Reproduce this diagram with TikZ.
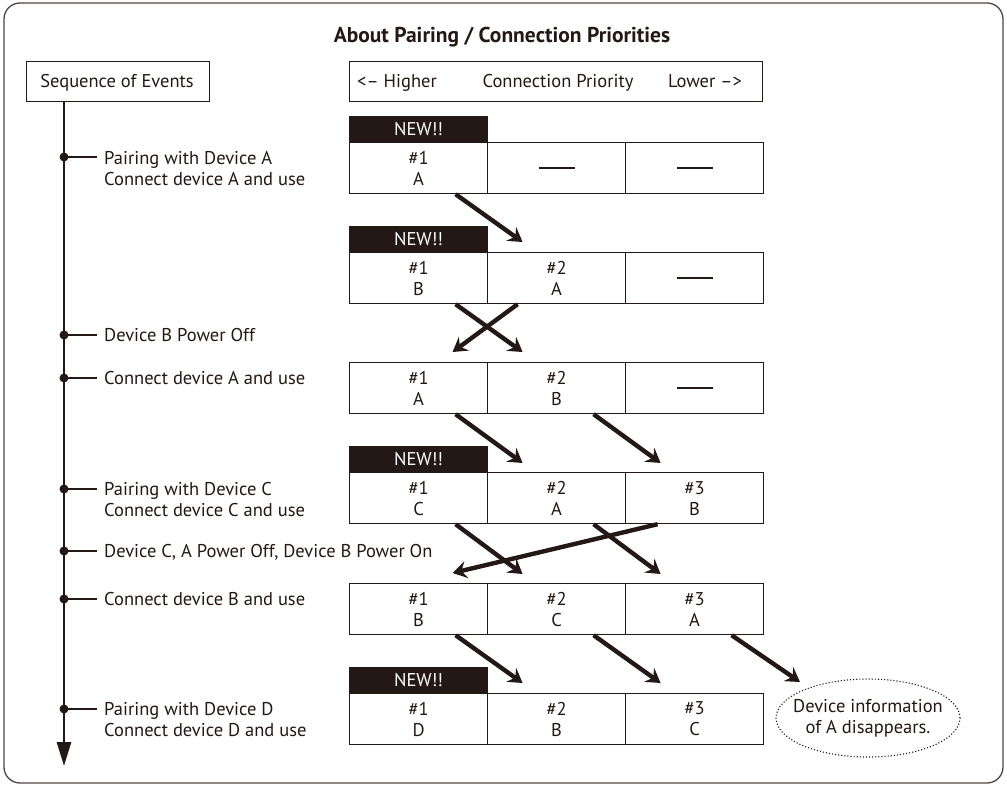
\documentclass[tikz,border=0pt]{standalone}
\usepackage{fontspec}
\setmainfont{PT Sans}
\usetikzlibrary{arrows.meta,calc,shapes.geometric}
\definecolor{ink}{HTML}{231815}
\newcommand{\bodyfont}{\fontsize{18.5}{21}\selectfont}
\begin{document}
\begin{tikzpicture}[x=1pt,y=-1pt,
  txt/.style={font=\bodyfont, text=ink, inner sep=0pt},
  cell/.style={draw=ink, line width=1.2pt, anchor=north west, minimum width=138pt,
     minimum height=51pt, inner sep=0pt, align=center, font=\bodyfont, text=ink},
  newbox/.style={fill=ink, draw=ink, line width=1.2pt, anchor=south west, minimum width=138pt,
     minimum height=25pt, inner sep=0pt, text=white, font=\bodyfont},
  hdr/.style={draw=ink, line width=1.2pt, anchor=north west, minimum height=40pt, inner sep=0pt},
  mv/.style={line width=4.4pt, draw=ink, -{Stealth[length=14pt,width=17pt,inset=5pt]}},
  tickline/.style={line width=1.1pt, draw=ink},
  evdot/.style={circle, fill=ink, inner sep=0pt, minimum size=9pt},
  dashline/.style={line width=1.3pt, draw=ink}
]
\useasboundingbox (0,0) rectangle (1007,787);
\draw[rounded corners=16pt, line width=1.3pt, draw=ink!80] (4,3) rectangle (1003,783);

% title
\node[txt, font=\fontsize{21.5}{24}\selectfont\bfseries, anchor=base] (title) at (502,42) {About Pairing / Connection Priorities};

% header boxes
\node[hdr, minimum width=183pt] (seq) at (26,61) {};
\node[txt, anchor=base] (seqt) at (117,87) {Sequence of Events};
\node[hdr, minimum width=413pt] (prio) at (349,61) {};
\node[txt, anchor=base] (hi) at (397,87) {<– Higher};
\node[txt, anchor=base] (cp) at (558,87) {Connection Priority};
\node[txt, anchor=base] (lo) at (705,87) {Lower –>};

% timeline
\coordinate (tend) at (64,766);
\draw[line width=2.8pt, draw=ink, -{Triangle[length=24pt,width=14pt]}] (seq.south -| tend) -- (tend);

% events
\foreach \n/\dy/\base/\la/\lb in {
  1/157/164/{Pairing with Device A}/{Connect device A and use},
  2/335/341/{Device B Power Off}/{},
  3/378/384/{Connect device A and use}/{},
  4/489/495/{Pairing with Device C}/{Connect device C and use},
  5/551/557/{Device C, A Power Off, Device B Power On}/{},
  6/599/605/{Connect device B and use}/{},
  7/709/715/{Pairing with Device D}/{Connect device D and use}} {
  \node[evdot] (d\n) at (64,\dy) {};
  \node[txt, anchor=base west] (ea\n) at (104,\base) {\la};
  \node[txt, anchor=base west] (eb\n) at (104,\base+21) {\lb};
  \draw[tickline] (d\n.center) -- (97,\dy);
}

% table rows
% row 1
\node[cell] (r1c1) at (349,142) {\#1\\A};
\node[cell] (r1c2) at (487,142) {};
\node[cell] (r1c3) at (625,142) {};
\node[newbox] (n1) at (r1c1.north west) {NEW!!};
% row 2
\node[cell] (r2c1) at (349,252) {\#1\\B};
\node[cell] (r2c2) at (487,252) {\#2\\A};
\node[cell] (r2c3) at (625,252) {};
\node[newbox] (n2) at (r2c1.north west) {NEW!!};
% row 3
\node[cell] (r3c1) at (349,362) {\#1\\A};
\node[cell] (r3c2) at (487,362) {\#2\\B};
\node[cell] (r3c3) at (625,362) {};
% row 4
\node[cell] (r4c1) at (349,472) {\#1\\C};
\node[cell] (r4c2) at (487,472) {\#2\\A};
\node[cell] (r4c3) at (625,472) {\#3\\B};
\node[newbox] (n4) at (r4c1.north west) {NEW!!};
% row 5
\node[cell] (r5c1) at (349,583) {\#1\\B};
\node[cell] (r5c2) at (487,583) {\#2\\C};
\node[cell] (r5c3) at (625,583) {\#3\\A};
% row 6
\node[cell] (r6c1) at (349,693) {\#1\\D};
\node[cell] (r6c2) at (487,693) {\#2\\B};
\node[cell] (r6c3) at (625,693) {\#3\\C};
\node[newbox] (n6) at (r6c1.north west) {NEW!!};

% empty-cell dashes
\foreach \c in {r1c2,r1c3,r2c3,r3c3} {
  \draw[dashline] ($(\c.center)+(-18,0)$) -- ($(\c.center)+(18,0)$);
}

% ellipse
\node[draw=ink, dotted, line width=1.1pt, ellipse, minimum width=184pt, minimum height=78pt,
  inner sep=0pt] (ell) at (868,718) {};
\node[txt, align=center] (ellt) at (ell.center) {Device information\\of A disappears.};

% moves
\draw[mv] ($(r1c1.south)+(37,0)$) -- ($(r2c2.north)+(-34,-10)$);
\draw[mv] ($(r2c1.south)+(37,0)$) -- ($(r3c2.north)+(-34,-10)$);
\draw[mv] ($(r2c2.south)+(-39,0)$) -- ($(r3c1.north)+(34,-10)$);
\draw[mv] ($(r3c1.south)+(37,0)$) -- ($(r4c2.north)+(-34,-9)$);
\draw[mv] ($(r3c2.south)+(37,0)$) -- ($(r4c3.north)+(-34,-9)$);
\draw[mv] ($(r4c1.south)+(37,0)$) -- ($(r5c2.north)+(-34,-9)$);
\draw[mv] ($(r4c2.south)+(37,0)$) -- ($(r5c3.north)+(-34,-9)$);
\draw[mv] ($(r4c3.south)+(-37,0)$) -- ($(r5c1.north)+(34,-10)$);
\draw[mv] ($(r5c1.south)+(37,0)$) -- ($(r6c2.north)+(-34,-10)$);
\draw[mv] ($(r5c2.south)+(37,0)$) -- ($(r6c3.north)+(-34,-10)$);
\draw[mv] ($(r5c3.south)+(37,0)$) -- ($(ell.center)+(-68,-36)$);
\end{tikzpicture}
\end{document}
